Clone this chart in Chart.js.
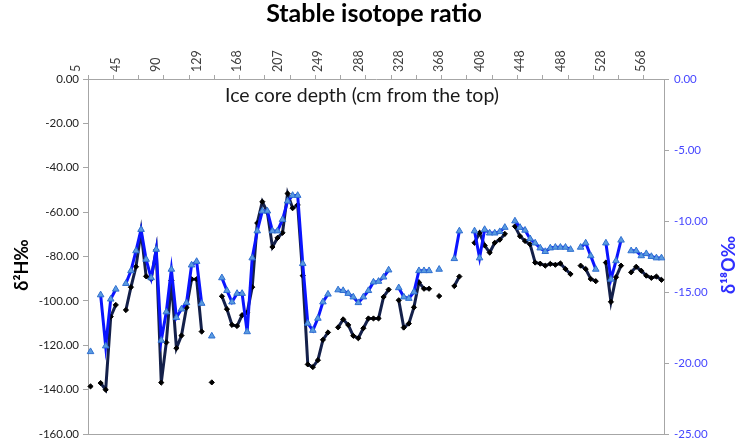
<!DOCTYPE html>
<html>
<head>
<meta charset="utf-8">
<script src="https://cdn.jsdelivr.net/npm/chart.js@4"></script>
<style>
html,body{margin:0;padding:0;background:#fff;}
#wrap{width:749px;height:446px;position:relative;}
</style>
</head>
<body>
<div id="wrap"><canvas id="c" width="749" height="446"></canvas></div>
<script>
// Category labels: depth (cm from the top)
const depthLabels = [5,10,15,20,25,30,35,40,45,51,56,62,67,73,78,84,90,95,100,105,110,114,119,124,129,134,139,144,149,153,158,163,168,173,178,183,188,192,197,202,207,212,218,223,228,233,238,244,249,254,259,264,269,273,278,283,288,293,298,303,308,313,318,323,328,333,338,343,348,353,358,363,368,373,378,383,388,393,398,403,408,413,418,423,428,433,438,443,448,453,458,463,468,473,478,483,488,493,498,503,508,513,518,523,528,533,538,543,548,553,558,563,568,573];

// δ2H (left axis)
const d2H = [-138.5,null,-137.0,-140.0,-107.1,-101.8,null,-104.1,-93.8,-84.6,
-68.5,-88.9,-90.1,-77.0,-136.8,-118.7,-90.8,-121.3,-115.6,-103.0,
-90.2,-90.2,-113.8,null,-136.7,null,-97.9,-103.7,-110.8,-111.3,
-106.4,-105.3,-93.8,-64.9,-55.3,-60.0,-75.7,-71.6,-69.3,-51.6,
-58.2,-56.7,-88.6,-128.6,-129.8,-126.7,-117.5,-114.2,null,-111.9,
-108.3,-110.8,-115.7,-116.8,-112.3,-107.9,-107.9,-107.9,-98.2,-94.9,
null,-99.7,-112.0,-110.2,-102.9,-91.6,-94.5,-94.5,null,-97.8,
null,null,-93.3,-89.0,null,null,-73.8,-69.3,-75.0,-78.2,
-73.8,-72.4,-69.8,null,-66.4,-70.8,-73.0,-74.5,-82.7,-83.2,
-84.1,-83.3,-83.7,-83.1,-85.6,-87.9,null,-84.1,-85.6,-90.1,
-91.1,null,-82.7,-100.4,-89.3,-84.1,null,-87.1,-84.6,-86.4,
-88.6,-89.6,-89.0,-90.5];

// δ18O (right axis)
const d18O = [-19.2,null,-15.2,-18.8,-15.5,-14.8,null,-14.4,-13.5,-12.1,
-10.6,-12.7,-14.0,-12.0,-18.4,-16.4,-13.4,-16.8,-16.2,-15.75,
-13.1,-12.85,-15.8,null,-18.1,null,-14.0,-14.9,-15.7,-15.1,
-15.1,-17.8,-12.6,-10.7,-9.3,-9.3,-10.7,-10.7,-9.9,-8.6,
-8.2,-8.2,-13.0,-17.2,-17.7,-16.85,-15.7,-15.15,null,-14.85,
-14.9,-15.1,-15.35,-15.75,-15.35,-14.9,-14.3,-14.25,-13.95,-13.45,
null,-14.7,-15.35,-15.45,-15.0,-13.5,-13.5,-13.5,null,-13.4,
null,null,-12.65,-10.7,null,null,-10.7,-12.6,-10.6,-10.85,
-10.85,-10.75,-10.45,null,-10.0,-10.45,-10.65,-11.25,-11.55,-11.9,
-12.15,-11.9,-11.85,-11.85,-11.85,-12.0,null,-11.85,-11.55,-12.45,
-13.4,null,-11.55,-14.1,-12.8,-11.35,null,-12.1,-12.1,-12.45,
-12.3,-12.5,-12.6,-12.6];

const chartTitle = 'Stable isotope ratio';
const xTitle = 'Ice core depth (cm from the top)';
const yLeftTitle = 'δ²H‰';
const yRightTitle = 'δ¹⁸O‰';

const FONT = 'Lato, "Open Sans", sans-serif';
const AXIS = '#a6a6a6';
const BLUE_TXT = '#4646ff';

const textPlugin = {
  id: 'texts',
  afterDraw(chart) {
    const ctx = chart.ctx;
    const a = chart.chartArea;
    ctx.save();
    ctx.strokeStyle = AXIS; ctx.lineWidth = 1;
    ctx.beginPath(); ctx.moveTo(a.left, Math.round(a.bottom)+0.5); ctx.lineTo(a.right, Math.round(a.bottom)+0.5); ctx.stroke();
    ctx.textAlign = 'center'; ctx.textBaseline = 'middle';
    ctx.fillStyle = '#000';
    ctx.font = 'bold 25px ' + FONT;
    ctx.fillText(chartTitle, 374, 14);
    ctx.font = '19.5px ' + FONT;
    ctx.fillStyle = '#1a1a1a';
    ctx.fillText(xTitle, 362, 96);
    ctx.font = 'bold 18px ' + FONT;
    ctx.fillStyle = '#000';
    ctx.translate(22, 265); ctx.rotate(-Math.PI/2); ctx.fillText(yLeftTitle, 0, 0);
    ctx.setTransform(1,0,0,1,0,0);
    ctx.fillStyle = '#3030ff';
    ctx.translate(729, 265); ctx.rotate(-Math.PI/2); ctx.fillText(yRightTitle, 0, 0);
    ctx.restore();
  }
};

new Chart(document.getElementById('c'), {
  type: 'line',
  data: {
    labels: depthLabels,
    datasets: [
      {
        label: 'δ18O',
        data: d18O,
        yAxisID: 'yR',
        borderColor: '#0a14ff',
        borderWidth: 3,
        pointStyle: 'triangle',
        pointRadius: 3.8,
        pointBackgroundColor: '#5a9be0',
        pointBorderColor: '#2f6fd0',
        pointBorderWidth: 1,
        spanGaps: false,
        tension: 0,
        order: 0
      },
      {
        label: 'δ2H',
        data: d2H,
        yAxisID: 'yL',
        borderColor: '#14204a',
        borderWidth: 3,
        pointStyle: 'rectRot',
        pointRadius: 2.6,
        pointBackgroundColor: '#000',
        pointBorderColor: '#000',
        pointBorderWidth: 1,
        spanGaps: false,
        tension: 0,
        order: 1
      }
    ]
  },
  options: {
    responsive: false,
    animation: false,
    layout: { padding: { top: 0, left: 0, right: 0, bottom: 7 } },
    plugins: { legend: { display: false }, tooltip: { enabled: false }, title: { display: false } },
    scales: {
      x: {
        type: 'category',
        position: 'top',
        offset: true,
        afterFit(s) { s.height = 79; },
        border: { color: AXIS, width: 1 },
        grid: {
          offset: true,
          drawOnChartArea: false,
          tickLength: 4,
          color: (c) => (c.index % 5 === 0 ? AXIS : 'rgba(0,0,0,0)')
        },
        ticks: {
          autoSkip: false,
          minRotation: 90,
          maxRotation: 90,
          padding: 3,
          color: '#404040',
          font: { family: FONT, size: 12.5 },
          callback: (v, i) => (i % 8 === 0 ? String(depthLabels[i]) : '')
        }
      },
      yL: {
        position: 'left',
        min: -160, max: 0,
        afterFit(s) { s.width = 88; },
        border: { color: AXIS, width: 1 },
        grid: { drawOnChartArea: false, tickLength: 5, color: AXIS },
        ticks: {
          stepSize: 20,
          padding: 4,
          color: '#222',
          font: { family: FONT, size: 11.5 },
          callback: (v) => v.toFixed(2)
        }
      },
      yR: {
        position: 'right',
        min: -25, max: 0,
        afterFit(s) { s.width = 85; },
        border: { color: AXIS, width: 1 },
        grid: { drawOnChartArea: false, tickLength: 5, color: AXIS },
        ticks: {
          stepSize: 5,
          padding: 5,
          color: BLUE_TXT,
          font: { family: FONT, size: 11.5 },
          callback: (v) => v.toFixed(2)
        }
      }
    }
  },
  plugins: [textPlugin]
});
</script>
</body>
</html>
